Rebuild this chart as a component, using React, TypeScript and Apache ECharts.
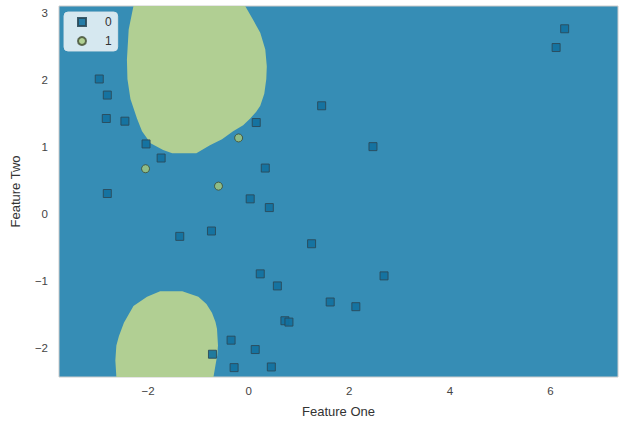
import React, { useEffect, useRef } from "react";
import * as echarts from "echarts";

// Class 0 observations (Feature One, Feature Two)
const class0X = [-2.97, -2.81, -2.83, -2.46, -2.04, -1.74, -2.81, 0.15, 0.33, 0.03, 0.41, 1.45, 2.47, 6.28, 6.11, -1.37, -0.74, 1.25, 0.23, 0.57, 1.62, 2.13, 0.72, 0.8, -0.35, -0.72, 0.13, -0.29, 0.45, 2.69];
const class0Y = [2.01, 1.77, 1.42, 1.38, 1.04, 0.83, 0.3, 1.36, 0.68, 0.22, 0.09, 1.61, 1.0, 2.76, 2.48, -0.34, -0.26, -0.45, -0.9, -1.08, -1.32, -1.39, -1.6, -1.62, -1.89, -2.1, -2.03, -2.3, -2.29, -0.93];
// Class 1 observations
const class1X = [-2.05, -0.2, -0.6];
const class1Y = [0.67, 1.13, 0.41];

// Decision region of class 1 (boundary outlines in data coordinates)
const upperRegionX = [-2.29, -2.385, -2.42, -2.41, -2.35, -2.22, -2.12, -1.95, -1.7, -1.52, -1.04, -0.77, -0.53, -0.31, -0.11, 0.03, 0.15, 0.23, 0.31, 0.35, 0.36, 0.33, 0.23, 0.09, -0.07];
const upperRegionY = [3.1, 2.75, 2.3, 2.01, 1.71, 1.42, 1.23, 1.05, 0.95, 0.9, 0.9, 1.02, 1.11, 1.23, 1.32, 1.42, 1.52, 1.61, 1.79, 2.01, 2.2, 2.45, 2.7, 2.89, 3.1];
const lowerRegionX = [-2.63, -2.65, -2.63, -2.58, -2.48, -2.29, -2.02, -1.76, -1.32, -1.0, -0.84, -0.73, -0.66, -0.63, -0.61, -0.625, -0.65, -0.7];
const lowerRegionY = [-2.44, -2.195, -1.97, -1.83, -1.63, -1.38, -1.24, -1.16, -1.16, -1.24, -1.35, -1.48, -1.62, -1.72, -1.97, -2.12, -2.22, -2.44];

const xRange = [-3.77, 7.34];
const yRange = [-2.44, 3.1];
const classNames = ["0", "1"];

const zip = (xs: number[], ys: number[]) => xs.map((x, i) => [x, ys[i]]);

const FONT = "'Liberation Sans', Arial, sans-serif";
const BLUE_BG = "#368DB5";
const GREEN_BG = "#B1CF93";

const fmt = (v: number) => {
  if (Math.abs(v % 1) > 1e-6) return "";
  return v < 0 ? "\u2212" + Math.abs(v) : String(v);
};

export default function App() {
  const ref = useRef<HTMLDivElement>(null);
  useEffect(() => {
    if (!ref.current) return;
    const chart = echarts.init(ref.current, undefined, { renderer: "svg" });
    const region = (xs: number[], ys: number[]) => {
      const pts = zip(xs, ys);
      return {
        type: "custom",
        name: "region",
        data: [[pts[0][0], pts[0][1]]],
        clip: true,
        z: 1,
        silent: true,
        renderItem: (_p: any, api: any) => ({
          type: "polygon",
          shape: { points: pts.map((p) => api.coord(p)) },
          style: { fill: GREEN_BG, stroke: null },
        }),
      };
    };
    chart.setOption({
      animation: false,
      textStyle: { fontFamily: FONT },
      grid: {
        left: 59,
        right: 6,
        top: 6,
        bottom: 41,
        show: true,
        backgroundColor: BLUE_BG,
        borderColor: "#cccccc",
        borderWidth: 1,
      },
      legend: {
        data: classNames,
        orient: "vertical",
        left: 64,
        top: 12,
        padding: [4, 6, 4, 13],
        itemWidth: 8,
        itemHeight: 8,
        itemGap: 7,
        backgroundColor: "rgba(255,255,255,0.8)",
        borderColor: "rgba(220,230,235,0.9)",
        borderWidth: 1,
        borderRadius: 4,
        textStyle: {
          fontFamily: FONT,
          fontSize: 12,
          color: "#333",
          lineHeight: 12,
          padding: [0, 0, 0, 14],
        },
      },
      xAxis: {
        type: "value",
        min: xRange[0],
        max: xRange[1],
        splitNumber: 5,
        name: "Feature One",
        nameLocation: "middle",
        nameGap: 28,
        nameTextStyle: { fontFamily: FONT, fontSize: 13, color: "#333" },
        axisLine: { show: false },
        axisTick: { show: false },
        splitLine: { show: false },
        axisLabel: {
          fontFamily: FONT,
          fontSize: 11.5,
          color: "#444",
          margin: 8,
          showMinLabel: false,
          showMaxLabel: false,
          formatter: (v: number) => (Math.abs(v % 2) < 1e-6 ? fmt(v) : ""),
        },
      },
      yAxis: {
        type: "value",
        min: yRange[0],
        max: yRange[1],
        splitNumber: 5,
        name: "Feature Two",
        nameLocation: "middle",
        nameGap: 37,
        nameTextStyle: { fontFamily: FONT, fontSize: 13, color: "#333" },
        axisLine: { show: false },
        axisTick: { show: false },
        splitLine: { show: false },
        axisLabel: {
          fontFamily: FONT,
          fontSize: 11.5,
          color: "#444",
          margin: 11,
          showMinLabel: false,
          showMaxLabel: false,
          formatter: (v: number) => fmt(v),
        },
      },
      series: [
        region(upperRegionX, upperRegionY),
        region(lowerRegionX, lowerRegionY),
        {
          type: "scatter",
          name: classNames[0],
          data: zip(class0X, class0Y),
          symbol: "rect",
          symbolSize: 8,
          z: 3,
          itemStyle: {
            color: "#12709F",
            borderColor: "#2B4A5A",
            borderWidth: 1,
            opacity: 0.9,
          },
        },
        {
          type: "scatter",
          name: classNames[1],
          data: zip(class1X, class1Y),
          symbol: "circle",
          symbolSize: 8,
          z: 4,
          itemStyle: {
            color: "#A6C97C",
            borderColor: "#3E4A30",
            borderWidth: 1,
          },
        },
      ],
    });
    return () => chart.dispose();
  }, []);
  return (
    <div
      ref={ref}
      style={{ position: "fixed", left: 0, top: 0, width: 624, height: 423, background: "#fff" }}
    />
  );
}
